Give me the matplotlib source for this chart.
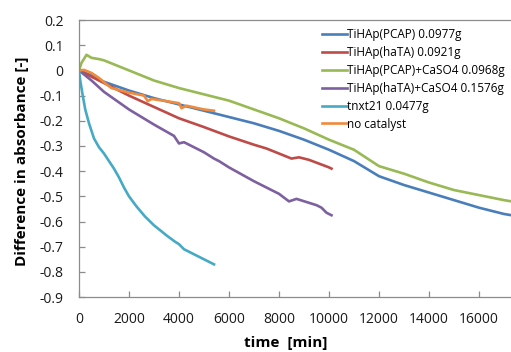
import matplotlib
matplotlib.use("Agg")
import matplotlib.pyplot as plt
from matplotlib.ticker import FuncFormatter, MultipleLocator

plt.rcParams['font.family'] = ['Open Sans', 'DejaVu Sans']

# ---- data ----
blue_x = [0, 500, 1000, 2000, 3000, 4000, 5000, 6000, 7000, 8000, 9000, 10000, 11000, 11500, 12000, 13000, 14000, 15000, 16000, 17000, 17300]
blue_y = [0, -0.02, -0.045, -0.08, -0.11, -0.135, -0.16, -0.185, -0.21, -0.24, -0.275, -0.315, -0.36, -0.39, -0.42, -0.455, -0.485, -0.515, -0.545, -0.57, -0.575]

red_x = [0, 1000, 2000, 3000, 4000, 5000, 6000, 7000, 7500, 8000, 8500, 8800, 9200, 9600, 10000, 10100]
red_y = [0, -0.05, -0.10, -0.145, -0.19, -0.225, -0.262, -0.295, -0.31, -0.33, -0.35, -0.345, -0.355, -0.37, -0.385, -0.39]

green_x = [0, 100, 300, 500, 800, 1000, 2000, 3000, 4000, 5000, 6000, 7000, 8000, 9000, 10000, 11000, 12000, 13000, 14000, 15000, 16000, 17000, 17300]
green_y = [0, 0.03, 0.062, 0.05, 0.045, 0.04, 0.0, -0.04, -0.07, -0.095, -0.12, -0.155, -0.19, -0.23, -0.275, -0.315, -0.38, -0.41, -0.445, -0.475, -0.495, -0.515, -0.52]

purple_x = [0, 500, 1000, 2000, 3000, 3800, 4000, 4200, 5000, 5400, 5600, 6000, 7000, 8000, 8400, 8700, 9500, 9700, 9900, 10100]
purple_y = [0, -0.04, -0.085, -0.155, -0.215, -0.26, -0.29, -0.285, -0.325, -0.35, -0.36, -0.385, -0.44, -0.49, -0.52, -0.51, -0.535, -0.545, -0.565, -0.575]

teal_x = [0, 50, 150, 250, 400, 600, 800, 1000, 1200, 1400, 1600, 1800, 2000, 2300, 2640, 3000, 3500, 3840, 4000, 4200, 4500, 5000, 5400]
teal_y = [0, -0.04, -0.1, -0.155, -0.21, -0.27, -0.305, -0.33, -0.36, -0.39, -0.425, -0.465, -0.5, -0.54, -0.58, -0.615, -0.655, -0.68, -0.69, -0.71, -0.725, -0.75, -0.77]

orange_x = [0, 200, 500, 800, 1100, 1300, 1600, 2000, 2600, 2750, 2900, 3500, 4000, 4100, 4300, 5000, 5400]
orange_y = [0, 0.002, -0.01, -0.03, -0.055, -0.07, -0.078, -0.088, -0.1, -0.122, -0.113, -0.122, -0.13, -0.15, -0.14, -0.155, -0.16]

labels = ["TiHAp(PCAP) 0.0977g", "TiHAp(haTA) 0.0921g", "TiHAp(PCAP)+CaSO4 0.0968g",
          "TiHAp(haTA)+CaSO4 0.1576g", "tnxt21 0.0477g", "no catalyst"]
colors = ["#4A7EBB", "#BE4B48", "#98B954", "#7D60A0", "#46AAC5", "#F08A3C"]

series = [(blue_x, blue_y), (red_x, red_y), (green_x, green_y),
          (purple_x, purple_y), (teal_x, teal_y), (orange_x, orange_y)]

fig = plt.figure(figsize=(5.11, 3.52), dpi=100)
ax = fig.add_axes([0.1546, 0.156, 0.8454, 0.787])

for (x, y), lab, c in zip(series, labels, colors):
    ax.plot(x, y, color=c, lw=1.9, label=lab, solid_joinstyle='round')

ax.set_xlim(0, 17280)
ax.set_ylim(-0.9, 0.2)
ax.xaxis.set_major_locator(MultipleLocator(2000))
ax.yaxis.set_major_locator(MultipleLocator(0.1))

def yfmt(v, pos):
    v = round(v, 1)
    if abs(v) < 1e-9:
        return "0"
    return "%.1f" % v
ax.yaxis.set_major_formatter(FuncFormatter(yfmt))
ax.xaxis.set_major_formatter(FuncFormatter(lambda v, p: "%d" % v))

spine_c = "#8C8C8C"
for s in ["left", "bottom", "top"]:
    ax.spines[s].set_color(spine_c)
    ax.spines[s].set_linewidth(0.9)
ax.spines["right"].set_visible(False)
ax.tick_params(direction="in", length=4, width=0.9, color=spine_c,
               labelsize=10, labelcolor="#1a1a1a")
ax.tick_params(axis="x", pad=11)
ax.tick_params(axis="y", pad=11)

ax.set_xlabel("time  [min]", fontsize=11, fontweight="bold", va="center")
ax.xaxis.set_label_coords(0.479, -0.166)
ax.set_ylabel("Difference in absorbance [-]", fontsize=11, fontweight="bold", va="center")
ax.yaxis.set_label_coords(-0.1326, 0.491)

leg = ax.legend(loc="upper left", bbox_to_anchor=(0.543, 1.0), frameon=False, fontsize=8.5,
                handlelength=2.1, handletextpad=0.0, labelspacing=0.41,
                borderaxespad=0.3, borderpad=0.4)

fig.savefig("out.png", dpi=100)
